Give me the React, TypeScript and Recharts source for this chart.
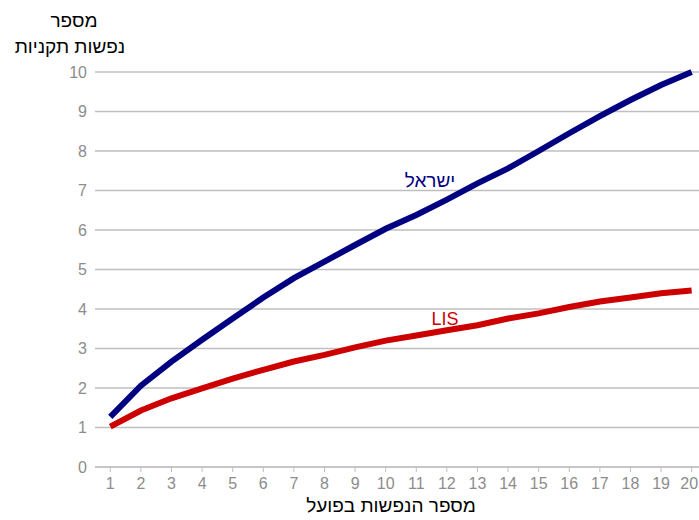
import { LineChart, Line, XAxis, YAxis, CartesianGrid } from "recharts";

const people = [1, 2, 3, 4, 5, 6, 7, 8, 9, 10, 11, 12, 13, 14, 15, 16, 17, 18, 19, 20];
const israel = [1.27, 2.06, 2.67, 3.22, 3.76, 4.29, 4.78, 5.2, 5.62, 6.03, 6.38, 6.77, 7.18, 7.56, 8.0, 8.45, 8.88, 9.29, 9.67, 10.0];
const lis = [1.02, 1.43, 1.74, 1.99, 2.24, 2.46, 2.67, 2.84, 3.03, 3.2, 3.33, 3.46, 3.59, 3.76, 3.89, 4.05, 4.19, 4.29, 4.4, 4.47];
const yTicks = [0, 1, 2, 3, 4, 5, 6, 7, 8, 9, 10];

const data = people.map((x, i) => ({ x, israel: israel[i], lis: lis[i] }));

const font = "'Liberation Sans', Arial, sans-serif";
const grey = "#8c8c8c";

const label = (text: string, left: number, top: number, color: string, size = 19) => (
  <div
    style={{
      position: "absolute",
      left,
      top,
      transform: "translate(-50%, -50%)",
      color,
      fontSize: size,
      fontFamily: font,
      whiteSpace: "nowrap",
      direction: "rtl",
      lineHeight: 1,
    }}
  >
    {text}
  </div>
);

// the last label sits against the right edge, so pull it in a little
const XTick = (props: any) => {
  const { x, y, payload } = props;
  const last = payload.value === people[people.length - 1];
  return (
    <text
      x={last ? x - 2.5 : x}
      y={y}
      dy="0.71em"
      textAnchor="middle"
      fill={grey}
      fontSize={16}
      fontFamily={font}
    >
      {payload.value}
    </text>
  );
};

export default function App() {
  return (
    <div style={{ position: "fixed", left: 0, top: 0, width: 699, height: 520, overflow: "hidden", background: "#fff" }}>
      <LineChart width={699} height={520} data={data} margin={{ top: 72, right: 0, bottom: 0, left: 0 }}>
        <CartesianGrid vertical={false} stroke="#bfbfbf" strokeWidth={1.3} />
        <XAxis
          dataKey="x"
          type="number"
          domain={[0.5, 20.24]}
          allowDataOverflow
          ticks={people}
          height={53}
          interval={0}
          stroke="#bfbfbf"
          tickSize={5}
          tickMargin={6}
          tick={<XTick />}
        />
        <YAxis
          domain={[0, 10]}
          ticks={yTicks}
          width={95}
          axisLine={false}
          tickLine={false}
          tick={{ fill: grey, fontSize: 16, fontFamily: font }}
        />
        <Line dataKey="israel" stroke="#000080" strokeWidth={6} dot={false} isAnimationActive={false} />
        <Line dataKey="lis" stroke="#cc0000" strokeWidth={6} dot={false} isAnimationActive={false} />
      </LineChart>
      {label("מספר", 74, 20, "#000")}
      {label("נפשות תקניות", 70, 46, "#000")}
      {label("מספר הנפשות בפועל", 391, 505, "#000")}
      {label("ישראל", 430, 180, "#000080")}
      {label("LIS", 445, 319, "#cc0000", 18)}
    </div>
  );
}
